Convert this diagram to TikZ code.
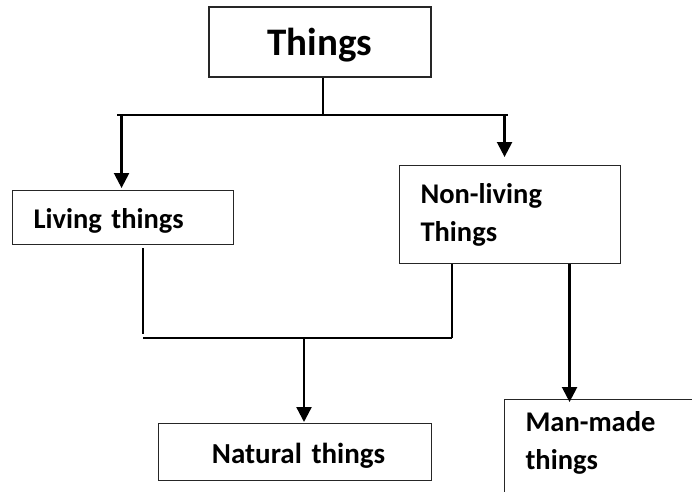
\documentclass[tikz,border=0pt]{standalone}
\usepackage{fontspec}
\setmainfont{Carlito}
\usetikzlibrary{arrows.meta,positioning}

\begin{document}
\begin{tikzpicture}[
	    x=1pt, y=-1pt,
	    box/.style={rectangle, draw=black!85, line width=1.1pt, inner ysep=0pt},
	    bigbox/.style={box, font=\fontsize{39}{46}\selectfont\bfseries, text depth=0pt},
	    leftbox/.style={box, align=left, inner xsep=21pt, font=\fontsize{28.5}{38}\selectfont\bfseries},
	    midbox/.style={box, font=\fontsize{29}{38}\selectfont\bfseries, text height=22pt, text depth=0pt},
	    normalline/.style={line width=1.5pt},
	    arrowline/.style={line width=2.3pt, -{Triangle[length=15pt, width=15pt]}},
	]
	\clip (0,0) rectangle (692,491);

	\node[bigbox, minimum width=222pt, minimum height=70pt] (things) at (320,42) {Things};

	% ------------ first split
	\node[leftbox, anchor=north west, text width=179pt, minimum height=54pt, text height=22pt, text depth=0pt] (living) at (12,190) {Living things};
	\node[leftbox, anchor=north west, text width=179pt, minimum height=98pt] (nonliving) at (399,165) {Non-living\\Things};

	\coordinate (splitL) at (117,115);
	\coordinate (splitR) at (508,115);

	\draw [normalline] ([xshift=3pt]things.south) -- ([xshift=3pt]things.south |- splitL);
	\draw [normalline] (splitL) -- (splitR);
	\draw [arrowline, shorten >=2pt] ([xshift=-1.5pt]living.north |- splitL) -- ([xshift=-1.5pt]living.north);
	\draw [arrowline, shorten >=8pt] ([xshift=-5.5pt]nonliving.north |- splitR) -- ([xshift=-5.5pt]nonliving.north);

	% ------------ second level
	\node[midbox, anchor=north west, minimum width=273pt, minimum height=57pt, text width=196pt, inner xsep=38.5pt, align=center] (natural) at (158,423) {\hspace*{7pt}Natural things};
	\node[leftbox, anchor=north west, text width=200pt, inner ysep=12pt, text depth=120pt] (manmade) at (504,399) {Man-made\\things};

	\coordinate (joinL) at (143,338);
	\coordinate (joinR) at (452,338);
	\coordinate (joinM) at (304,338);

	\draw [normalline, shorten <=3pt] (living.south -| joinL) -- ([yshift=4pt]joinL);
	\draw [normalline] (nonliving.south -| joinR) -- (joinR);
	\draw [normalline] (joinL) -- (joinR);
	\draw [arrowline, shorten >=1pt] (joinM) -- (joinM |- natural.north);
	\draw [arrowline, shorten >=-3pt] ([xshift=59.5pt]nonliving.south) -- ([xshift=59.5pt]nonliving.south |- manmade.north);

\end{tikzpicture}
\end{document}
